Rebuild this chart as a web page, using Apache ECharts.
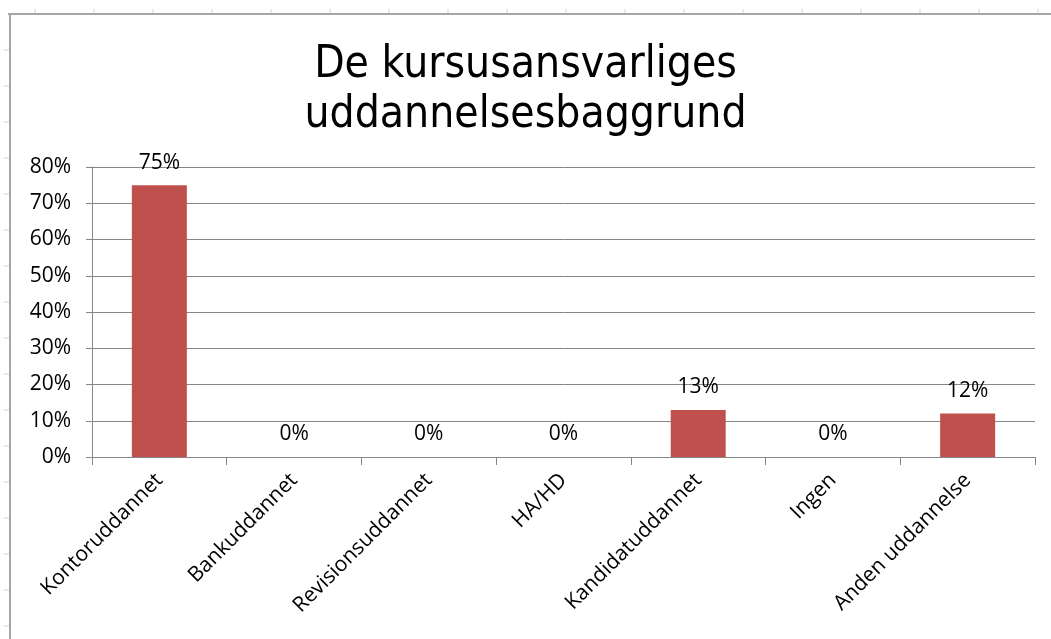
<!DOCTYPE html>
<html>
<head>
<meta charset="utf-8">
<script src="https://cdn.jsdelivr.net/npm/echarts@6/dist/echarts.min.js"></script>
<style>
  html, body { margin: 0; padding: 0; background: #fff; }
  #chart { width: 1051px; height: 639px; }
</style>
</head>
<body>
<div id="chart"></div>
<script>
const categories = ['Kontoruddannet', 'Bankuddannet', 'Revisionsuddannet', 'HA/HD', 'Kandidatuddannet', 'Ingen', 'Anden uddannelse'];
const shares = [75, 0, 0, 0, 13, 0, 12];
const yTicks = [0, 10, 20, 30, 40, 50, 60, 70, 80];

const font = '"Open Sans", "Liberation Sans", Arial, sans-serif';

// spreadsheet frame around the chart object
const frame = [
    { type: 'line', shape: { x1: 8, y1: 14, x2: 1051, y2: 14 }, style: { stroke: '#a6a6a6', lineWidth: 2 } },
    { type: 'line', shape: { x1: 10, y1: 14, x2: 10, y2: 639 }, style: { stroke: '#a6a6a6', lineWidth: 2 } }
];
[35, 94, 153, 212, 271, 330, 389, 448, 507, 566, 625, 684, 743, 802, 861, 920, 979, 1038].forEach(x => {
    frame.push({ type: 'line', shape: { x1: x, y1: 9, x2: x, y2: 13 }, style: { stroke: '#d0d0d0', lineWidth: 1 } });
});
[50, 86, 122, 158, 194, 230, 266, 302, 338, 374, 410, 446, 482, 518, 554, 590, 626].forEach(y => {
    frame.push({ type: 'line', shape: { x1: 4, y1: y, x2: 9, y2: y }, style: { stroke: '#d0d0d0', lineWidth: 1 } });
});

echarts.init(document.querySelector('#chart')).setOption({
    animation: false,
    backgroundColor: '#fff',
    graphic: frame,
    title: {
        text: 'De kursusansvarliges\nuddannelsesbaggrund',
        left: 'center',
        top: 36,
        padding: [5, 5, 5, 27],
        textStyle: {
            fontFamily: '"DejaVu Sans Condensed", "Liberation Sans Narrow", Arial, sans-serif',
            fontSize: 44,
            fontWeight: 'normal',
            color: '#000',
            lineHeight: 50
        }
    },
    grid: { left: 92, right: 16, top: 167, bottom: 182 },
    xAxis: {
        type: 'category',
        data: categories,
        axisLine: { lineStyle: { color: '#868686' } },
        axisTick: { show: true, length: 8, alignWithLabel: false, lineStyle: { color: '#868686' } },
        axisLabel: {
            rotate: 45,
            interval: 0,
            margin: 20,
            fontFamily: font,
            fontSize: 21,
            color: '#000'
        }
    },
    yAxis: {
        type: 'value',
        min: yTicks[0],
        max: yTicks[yTicks.length - 1],
        interval: 10,
        axisLine: { show: true, lineStyle: { color: '#868686' } },
        axisTick: { show: true, length: 6, lineStyle: { color: '#868686' } },
        splitLine: { lineStyle: { color: '#868686' } },
        axisLabel: {
            formatter: '{value}%',
            margin: 21,
            fontFamily: font,
            fontSize: 21,
            color: '#000'
        }
    },
    series: [{
        type: 'bar',
        data: shares,
        barWidth: 55,
        itemStyle: { color: '#C0504D' },
        label: {
            show: true,
            position: 'top',
            distance: 12,
            formatter: '{c}%',
            fontFamily: font,
            fontSize: 21,
            color: '#000'
        }
    }]
});
</script>
</body>
</html>
